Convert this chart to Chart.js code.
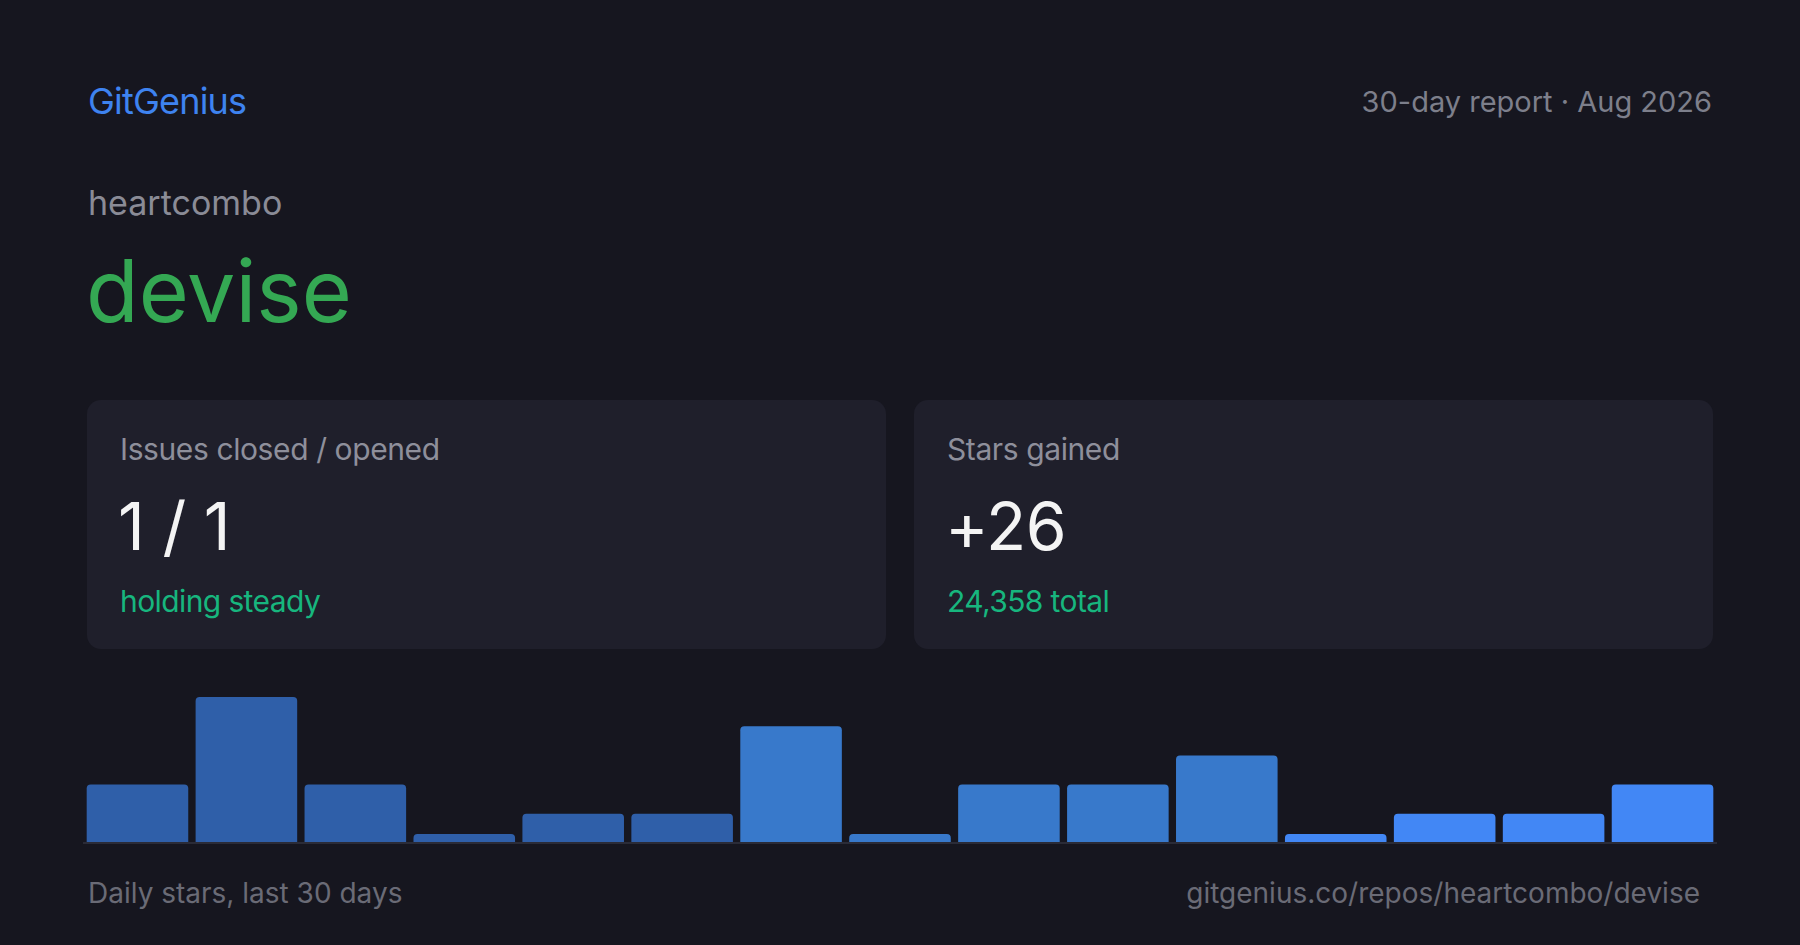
<!DOCTYPE html>
<html>
<head>
<meta charset="utf-8">
<script src="https://cdn.jsdelivr.net/npm/chart.js@4.4.1/dist/chart.umd.min.js"></script>
<style>
  html, body { margin: 0; padding: 0; }
  body { width: 1800px; height: 945px; background: #16161f; position: relative; overflow: hidden;
         font-family: 'Inter', 'Noto Sans', sans-serif; }
  .t { position: absolute; white-space: nowrap; line-height: 1; }
  .card { position: absolute; top: 400px; width: 799px; height: 249px; background: #1f1f2b; border-radius: 14px; }
  .card .lbl { position: absolute; left: 33px; top: 34px; font-size: 30px; line-height: 1; color: #8e8f9b; white-space: nowrap; letter-spacing: -0.4px; }
  .card .big { position: absolute; left: 31px; top: 93px; font-size: 66px; line-height: 1; color: #f4f4f4; white-space: nowrap; letter-spacing: -0.5px; }
  .card .sub { position: absolute; left: 33px; top: 186px; font-size: 30px; line-height: 1; color: #17b67e; white-space: nowrap; letter-spacing: -0.6px; }
  #chartBox { position: absolute; left: 83px; top: 697px; width: 1634px; height: 149px; }
</style>
</head>
<body>
  <div class="t" style="left:88px; top:83px; font-size:36px; color:#3e83f0; letter-spacing:-0.8px;">GitGenius</div>
  <div class="t" style="right:88px; top:87px; font-size:29px; color:#7d7f8b;">30-day report · Aug 2026</div>
  <div class="t" style="left:88px; top:186px; font-size:34px; color:#8a8b96;">heartcombo</div>
  <div class="t" style="left:86px; top:248px; font-size:86px; color:#34a853;">devise</div>

  <div class="card" style="left:87px;">
    <div class="lbl">Issues closed / opened</div>
    <div class="big">1 / 1</div>
    <div class="sub">holding steady</div>
  </div>
  <div class="card" style="left:914px;">
    <div class="lbl">Stars gained</div>
    <div class="big">+26</div>
    <div class="sub">24,358 total</div>
  </div>

  <div id="chartBox"><canvas id="c"></canvas></div>

  <div class="t" style="left:88px; top:879px; font-size:28px; color:#6a6b76;">Daily stars, last 30 days</div>
  <div class="t" style="right:100px; top:879px; font-size:28px; color:#6a6b76;">gitgenius.co/repos/heartcombo/devise</div>

<script>
const dayLabels = ['1–2','3–4','5–6','7–8','9–10','11–12','13–14','15–16','17–18','19–20','21–22','23–24','25–26','27–28','29–30'];
const dailyStars = [2, 5, 2, 0, 1, 1, 4, 0, 2, 2, 3, 0, 1, 1, 2];
const barColors = ['#2f5fa9','#2f5fa9','#2f5fa9','#2f5fa9','#2f5fa9','#2f5fa9',
                   '#3879cb','#3879cb','#3879cb','#3879cb','#3879cb',
                   '#4287f5','#4287f5','#4287f5','#4287f5'];
const yMax = 5;

new Chart(document.getElementById('c'), {
  type: 'bar',
  data: {
    labels: dayLabels,
    datasets: [{
      data: dailyStars,
      backgroundColor: barColors,
      borderWidth: 0,
      borderRadius: { topLeft: 4, topRight: 4, bottomLeft: 0, bottomRight: 0 },
      borderSkipped: 'start',
      categoryPercentage: 1.0,
      barPercentage: 0.9324,
      minBarLength: 9
    }]
  },
  options: {
    responsive: true,
    maintainAspectRatio: false,
    animation: false,
    layout: { padding: { left: 0, right: 0, top: 0, bottom: 3 } },
    plugins: { legend: { display: false }, tooltip: { enabled: false } },
    scales: {
      x: {
        display: true,
        grid: { display: false, drawTicks: false },
        ticks: { display: false },
        border: { display: true, color: '#2a2b37', width: 2, z: 1 }
      },
      y: {
        display: false,
        min: 0,
        max: yMax
      }
    }
  }
});
</script>
</body>
</html>
